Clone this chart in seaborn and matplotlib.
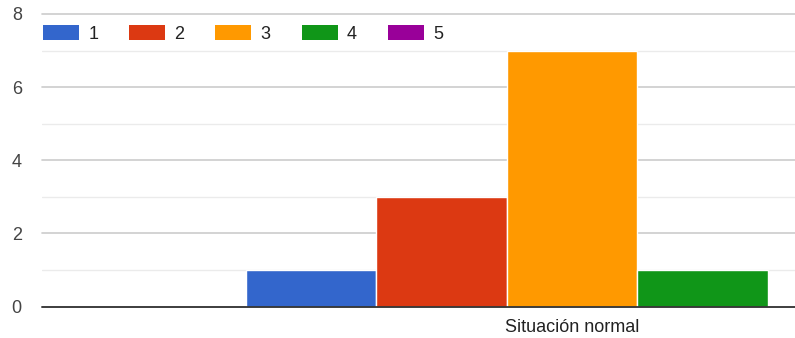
import matplotlib
matplotlib.use("Agg")
import matplotlib.pyplot as plt
from matplotlib.patches import Patch
from matplotlib.ticker import MultipleLocator
import seaborn as sns
import pandas as pd

# Chart data
categories = ["Situación normal"]
series = ["1", "2", "3", "4", "5"]
values = [1, 3, 7, 1, 0]
colors = ["#3366cc", "#dc3912", "#ff9900", "#109618", "#990099"]

df = pd.DataFrame({
    "categoria": categories * len(series),
    "serie": series,
    "valor": values,
})

sns.set_theme(style="white")
plt.rcParams["font.family"] = ["Liberation Sans", "DejaVu Sans"]

W, H = 795, 338
fig = plt.figure(figsize=(W / 100, H / 100), dpi=100)
left_px, right_px, zero_px, top_px = 42, 795, 306.5, 14
ax = fig.add_axes([left_px / W, (H - zero_px) / H,
                   (right_px - left_px) / W, (zero_px - top_px) / H])

sns.barplot(data=df, x="categoria", y="valor", hue="serie",
            hue_order=series, palette=colors, width=0.8, gap=0,
            edgecolor="white", linewidth=1.0, saturation=1,
            legend=False, ax=ax, zorder=2)

ax.set_xlim(-0.650, 0.2735)
ax.set_ylim(0, 8)
ax.yaxis.set_major_locator(MultipleLocator(2))
ax.yaxis.set_minor_locator(MultipleLocator(1))
ax.grid(axis="y", which="major", color="#cccccc", linewidth=1.2, zorder=0)
ax.grid(axis="y", which="minor", color="#ebebeb", linewidth=1.0, zorder=0)
for gl in ax.get_ygridlines():
    gl.set_clip_on(False)
ax.set_axisbelow(True)
ax.axhline(0, color="#333333", linewidth=1.3, zorder=3, clip_on=False)

for s in ax.spines.values():
    s.set_visible(False)
ax.tick_params(axis="both", which="both", length=0)
ax.tick_params(axis="y", labelsize=13, labelcolor="#444444", pad=14.5)
ax.tick_params(axis="x", labelsize=13, labelcolor="#222222", pad=9)
ax.set_xlabel("")
ax.set_ylabel("")

handles = [Patch(facecolor=c, edgecolor="none", label=s) for s, c in zip(series, colors)]
fig.legend(handles=handles, loc="center left", ncol=5,
           bbox_to_anchor=(43 / W, 1 - 34 / H), frameon=False,
           fontsize=13, handlelength=2.0, handleheight=0.85,
           handletextpad=0.5, columnspacing=1.72, borderpad=0,
           borderaxespad=0, labelcolor="#222222")

fig.savefig("out.png", dpi=100, facecolor="white")
